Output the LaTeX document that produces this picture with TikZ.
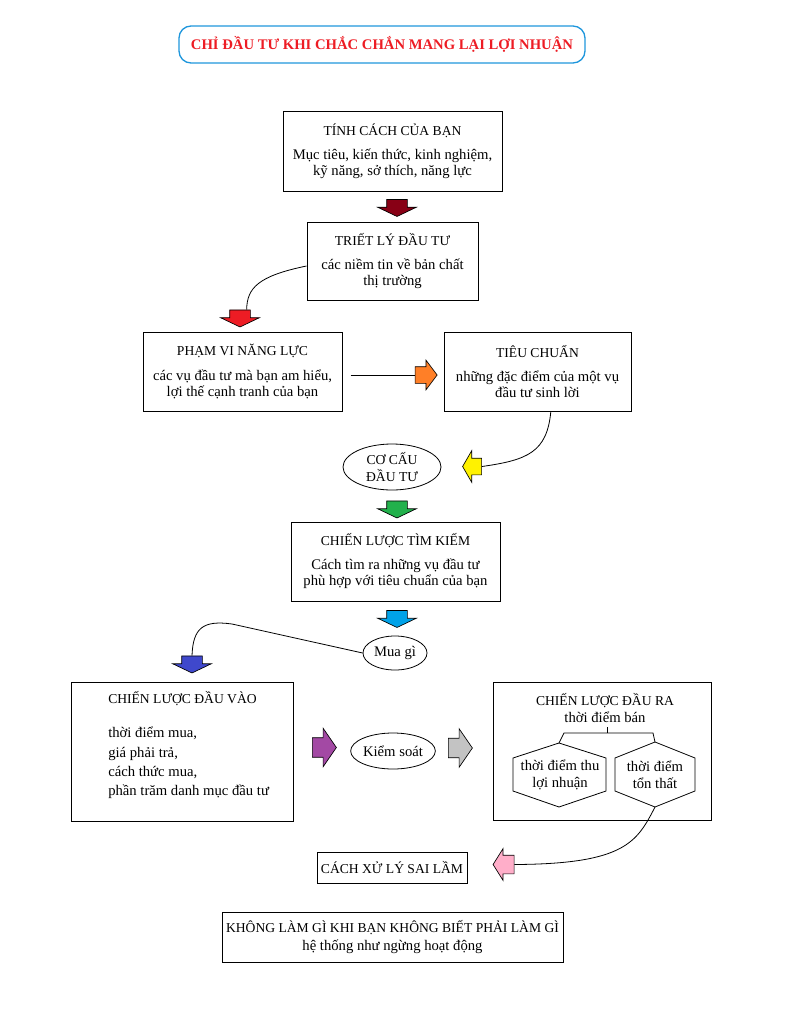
\documentclass[tikz,border=0pt]{standalone}
\usepackage{fontspec}
\setmainfont{Liberation Serif}
\usetikzlibrary{shapes.arrows,shapes.geometric}
\definecolor{titleBlue}{RGB}{30,150,220}
\definecolor{titleRed}{RGB}{237,28,36}
\definecolor{darkRed}{RGB}{136,0,21}
\definecolor{pRed}{RGB}{237,28,36}
\definecolor{pOrange}{RGB}{255,127,39}
\definecolor{pYellow}{RGB}{255,242,0}
\definecolor{pGreen}{RGB}{34,177,76}
\definecolor{pSky}{RGB}{0,162,232}
\definecolor{pIndigo}{RGB}{63,72,204}
\definecolor{pPurple}{RGB}{163,73,164}
\definecolor{pGray}{RGB}{195,195,195}
\definecolor{pPink}{RGB}{255,174,201}
\newcommand{\capt}[1]{{\fontsize{10.2}{12}\selectfont #1}}
\begin{document}
\begin{tikzpicture}
        [x=0.75pt, y=-0.75pt, font=\fontsize{11}{12}\selectfont,
        box/.style={rectangle, draw, line width=0.75pt, inner sep=0pt, align=center},
        oval/.style={ellipse, draw, line width=0.6pt, inner sep=0pt, align=center},
        blockArr/.style={single arrow, draw, line width=0.5pt, inner xsep=0pt, minimum width=1pt},
        downArr/.style={blockArr, shape border rotate=270, minimum height=12.75pt, inner xsep=7.5pt, inner ysep=0pt, single arrow head extend=6.75pt, single arrow tip angle=129},
        rightArr/.style={blockArr, minimum height=18pt, inner ysep=7.1pt, single arrow head extend=7.1pt, single arrow tip angle=111},
        leftArr/.style={blockArr, shape border rotate=180, minimum height=15.75pt, inner ysep=6.75pt, single arrow head extend=4.9pt, single arrow tip angle=116}]
        \useasboundingbox (0,0) rectangle (804,1010);

        \node[draw=titleBlue, line width=1pt, rounded corners=9pt, minimum width=304.5pt, minimum height=27.75pt, text=titleRed, font=\fontsize{11}{13}\selectfont\bfseries] (title) at (382,44.5) {CHỈ ĐẦU TƯ KHI CHẮC CHẮN MANG LẠI LỢI NHUẬN};

        \node[box, minimum width=164.25pt, minimum height=60pt] (tinh) at (392.5,151) {\capt{TÍNH CÁCH CỦA BẠN}\\[6pt] Mục tiêu, kiến thức, kinh nghiệm,\\ kỹ năng, sở thích, năng lực};
        \node[downArr, fill=darkRed] (a1) at (397,205.5) {};
        \node[box, minimum width=128.25pt, minimum height=58.5pt] (triet) at (392.5,261) {\capt{TRIẾT LÝ ĐẦU TƯ}\\[6pt] các niềm tin về bản chất\\ thị trường};
        \node[downArr, fill=pRed] (a2) at (240,316) {};
        \node[box, minimum width=149.25pt, minimum height=59.25pt] (pham) at (242.5,371.5) {\capt{PHẠM VI NĂNG LỰC}\\[7pt] các vụ đầu tư mà bạn am hiểu,\\ lợi thế cạnh tranh của bạn};
        \node[rightArr, fill=pOrange, minimum height=16.5pt, inner ysep=6pt, single arrow head extend=4.9pt, single arrow tip angle=106] (a3) at (423,375) {};
        \node[box, minimum width=140.25pt, minimum height=59.25pt] (tieu) at (537.5,371.5) {\capt{TIÊU CHUẨN}\\[6pt] những đặc điểm của một vụ\\ đầu tư sinh lời};
        \node[leftArr, fill=pYellow, minimum height=14.25pt, inner ysep=6pt, single arrow head extend=5.6pt, single arrow tip angle=120] (a4) at (474.5,466.5) {};
        \node[oval, minimum width=73.5pt, minimum height=34.5pt] (coCau) at (392,467) {\capt{CƠ CẤU}\\[1pt] \capt{ĐẦU TƯ}};
        \node[downArr, fill=pGreen] (a5) at (397,507) {};
        \node[box, minimum width=156.75pt, minimum height=59.25pt] (timKiem) at (395.5,561.5) {\capt{CHIẾN LƯỢC TÌM KIẾM}\\[6pt] Cách tìm ra những vụ đầu tư\\ phù hợp với tiêu chuẩn của bạn};
        \node[downArr, fill=pSky] (a6) at (397,616.5) {};
        \node[oval, minimum width=48pt, minimum height=25.5pt] (muaGi) at (395,653) {Mua gì};
        \node[downArr, fill=pIndigo] (a7) at (192,662) {};

        \node[box, minimum width=166.5pt, minimum height=104.25pt] (dauVao) at (182,751.5) {};
        \node[align=left, anchor=west, inner sep=0pt] (vaoText) at (108,745) {\capt{CHIẾN LƯỢC ĐẦU VÀO}\\[14pt] thời điểm mua,\\[2.5pt] giá phải trả,\\[2.5pt] cách thức mua,\\[2.5pt] phần trăm danh mục đầu tư};
        \node[rightArr, fill=pPurple] (a8) at (321,747.5) {};
        \node[oval, minimum width=57pt, minimum height=27pt] (kiemSoat) at (393,751) {Kiểm soát};
        \node[rightArr, fill=pGray] (a9) at (457,748) {};

        \node[box, minimum width=163.5pt, minimum height=103.5pt] (dauRa) at (602,751) {};
        \node[align=center, inner sep=0pt] (raText) at (605,708) {\capt{CHIẾN LƯỢC ĐẦU RA}\\[1pt] thời điểm bán};
        \coordinate (h1t) at (559,743);
        \coordinate (h2t) at (655,742);
        \coordinate (h2b) at (655,807);
        \draw[line width=0.6pt] (h1t) -- (606,758) -- (606,791) -- (559,807) -- (513,791) -- (513,758) -- cycle;
        \draw[line width=0.6pt] (h2t) -- (695,758) -- (695,791) -- (h2b) -- (615,791) -- (615,758) -- cycle;
        \node[align=center, inner sep=0pt] (thu) at (560,775) {thời điểm thu\\[1pt] lợi nhuận};
        \node[align=center, inner sep=0pt] (tonThat) at (655,775) {thời điểm\\[1pt] tổn thất};
        \draw[line width=0.6pt] (607,727) -- (607,733);
        \draw[line width=0.6pt] (h1t) -- (564,733) -- (653,733) -- (h2t);

        \node[leftArr, fill=pPink] (a10) at (506.5,864.5) {};
        \node[box, minimum width=112.5pt, minimum height=23.25pt] (saiLam) at (392,867.5) {\capt{CÁCH XỬ LÝ SAI LẦM}};
        \node[box, minimum width=255.75pt, minimum height=37.5pt] (khong) at (392.5,937) {\capt{KHÔNG LÀM GÌ KHI BẠN KHÔNG BIẾT PHẢI LÀM GÌ}\\[2pt] hệ thống như ngừng hoạt động};

        \draw[line width=0.6pt] ([yshift=-3.75pt]triet.west) .. controls (258,276) and (247,288) .. ([xshift=5pt]a2.tail);
        \draw[line width=0.6pt] (pham.east |- a3.tail) ++(8,0) -- (a3.tail);
        \draw[line width=0.6pt] ([xshift=10pt]tieu.south) .. controls (547,452) and (528,460) .. (a4.tail);
        \draw[line width=0.6pt] (muaGi.west) -- (232,624) .. controls (203,620) and (193,628) .. (a7.tail);
        \draw[line width=0.6pt] (h2b) .. controls (637,842) and (625,864) .. (a10.tail);
\end{tikzpicture}
\end{document}
